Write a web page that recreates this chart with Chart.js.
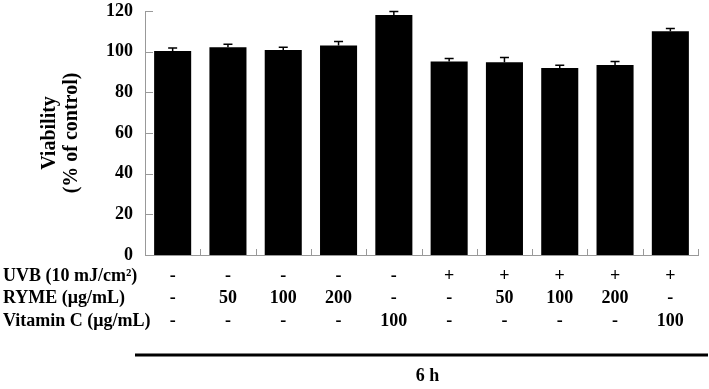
<!DOCTYPE html>
<html>
<head>
<meta charset="utf-8">
<script src="https://cdn.jsdelivr.net/npm/chart.js@4/dist/chart.umd.min.js"></script>
<style>
html, body { margin: 0; padding: 0; background: #fff; }
</style>
</head>
<body>
<canvas id="viabilityChart" width="709" height="389"></canvas>
<script>
// treatment table (one entry per bar)
const uvb = ['-', '-', '-', '-', '-', '+', '+', '+', '+', '+'];
const ryme = ['-', '50', '100', '200', '-', '-', '50', '100', '200', '-'];
const vitaminC = ['-', '-', '-', '-', '100', '-', '-', '-', '-', '100'];
const rowLabels = ['UVB (10 mJ/cm\u00B2)', 'RYME (\u03BCg/mL)', 'Vitamin C (\u03BCg/mL)'];

// viability (% of control) and SD
const viability = [100.3, 102.2, 100.8, 103.0, 118.0, 95.2, 94.8, 92.0, 93.4, 110.1];
const errors = [1.5, 1.5, 1.4, 2.0, 1.7, 1.5, 2.3, 1.3, 1.8, 1.3];
const yTicks = [0, 20, 40, 60, 80, 100, 120];
const timeLabel = '6 h';

const FONT = "'Liberation Serif', 'Times New Roman', serif";
const LINE_H = 22.5;
const TICK_PAD = 10;

Chart.defaults.font.family = FONT;
Chart.defaults.font.weight = 'bold';
Chart.defaults.font.size = 18;
Chart.defaults.color = '#000';

const categories = uvb.map((u, i) => [u, ryme[i], vitaminC[i]]);

// error bars, inward axis ticks, row labels, underline and time label
const extras = {
    id: 'extras',
    afterDatasetsDraw(chart) {
        const ctx = chart.ctx;
        const y = chart.scales.y;
        const meta = chart.getDatasetMeta(0);

        ctx.save();
        ctx.strokeStyle = '#000';
        ctx.lineWidth = 1.5;
        meta.data.forEach((bar, i) => {
            const yb = y.getPixelForValue(viability[i]);
            const yt = y.getPixelForValue(viability[i] + errors[i]);
            ctx.beginPath();
            ctx.moveTo(bar.x, yb);
            ctx.lineTo(bar.x, yt);
            ctx.moveTo(bar.x - 4.5, yt);
            ctx.lineTo(bar.x + 4.5, yt);
            ctx.stroke();
        });
        ctx.restore();
    },
    afterDraw(chart) {
        const ctx = chart.ctx;
        const x = chart.scales.x;
        const y = chart.scales.y;
        const area = chart.chartArea;

        ctx.save();
        ctx.strokeStyle = '#999';
        ctx.lineWidth = 1;
        // y ticks pointing into the plot
        y.ticks.forEach(t => {
            const py = Math.round(y.getPixelForValue(t.value)) + 0.5;
            ctx.beginPath();
            ctx.moveTo(area.left, py);
            ctx.lineTo(area.left + 8, py);
            ctx.stroke();
        });
        // x ticks between categories
        const step = (area.right - area.left) / categories.length;
        for (let i = 0; i <= categories.length; i++) {
            const px = Math.round(area.left + i * step) + 0.5;
            ctx.beginPath();
            ctx.moveTo(px, area.bottom);
            ctx.lineTo(px, area.bottom - 6);
            ctx.stroke();
        }

        // row labels of the treatment table
        ctx.fillStyle = '#000';
        ctx.font = 'bold 18px ' + FONT;
        ctx.textAlign = 'left';
        ctx.textBaseline = 'middle';
        rowLabels.forEach((lab, i) => {
            ctx.fillText(lab, 3, x.top + TICK_PAD + LINE_H * (i + 0.5));
        });

        // line above the time label
        const ly = x.top + TICK_PAD + LINE_H * 3 + 22.5;
        ctx.strokeStyle = '#000';
        ctx.lineWidth = 3;
        ctx.beginPath();
        ctx.moveTo(area.left - 10, ly);
        ctx.lineTo(chart.width - 1, ly);
        ctx.stroke();

        // time label, a little right of the plot centre
        ctx.textAlign = 'center';
        ctx.fillText(timeLabel, (area.left + area.right) / 2 + 6, ly + 21);
        ctx.restore();
    }
};

new Chart(document.getElementById('viabilityChart'), {
    type: 'bar',
    data: {
        labels: categories,
        datasets: [{
            data: viability,
            backgroundColor: '#000',
            borderWidth: 0,
            barPercentage: 0.67,
            categoryPercentage: 1.0
        }]
    },
    options: {
        responsive: false,
        animation: false,
        devicePixelRatio: 1,
        layout: { padding: { left: 0, right: 11, top: 11, bottom: 0 } },
        plugins: {
            legend: { display: false },
            tooltip: { enabled: false }
        },
        scales: {
            x: {
                grid: { display: false, drawTicks: false },
                border: { display: true, color: '#999', width: 1 },
                ticks: {
                    padding: TICK_PAD,
                    autoSkip: false,
                    maxRotation: 0,
                    font: { size: 18, weight: 'bold', lineHeight: LINE_H / 18 }
                },
                afterFit: axis => {
                    axis.height = 134;
                    axis.paddingLeft = 0;
                    axis.paddingRight = 0;
                }
            },
            y: {
                min: 0,
                max: 120,
                afterBuildTicks: axis => { axis.ticks = yTicks.map(v => ({ value: v })); },
                grid: { display: false, drawTicks: false },
                border: { display: true, color: '#999', width: 1 },
                ticks: {
                    padding: 12,
                    font: { size: 18, weight: 'bold' }
                },
                title: {
                    display: true,
                    text: ['Viability', '(% of control)'],
                    font: { size: 20, weight: 'bold', lineHeight: 1.1 },
                    padding: { top: 39, bottom: 0 }
                },
                afterFit: axis => {
                    axis.width = 145;
                    axis.paddingTop = 0;
                    axis.paddingBottom = 0;
                }
            }
        }
    },
    plugins: [extras]
});
</script>
</body>
</html>
